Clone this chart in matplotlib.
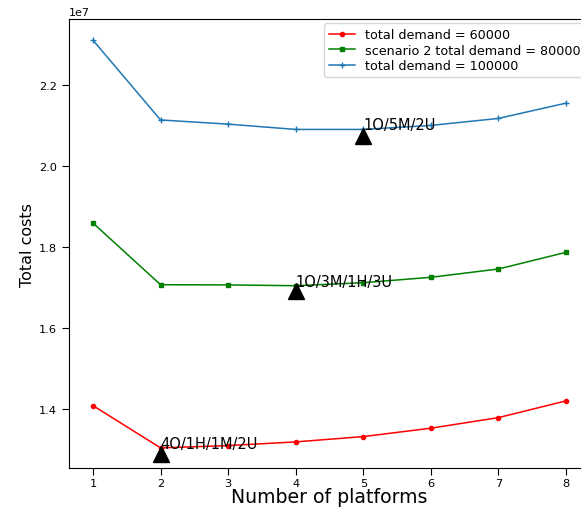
import matplotlib
matplotlib.use('Agg')
import matplotlib.pyplot as plt
import numpy as np

# number of platforms
platforms = [1, 2, 3, 4, 5, 6, 7, 8]

# total costs (x 1e7)
cost_60000 = [1.4081, 1.3037, 1.3094, 1.3185, 1.3316, 1.3523, 1.3785, 1.4198]
cost_80000 = [1.8593, 1.7069, 1.7064, 1.7044, 1.7119, 1.7252, 1.7457, 1.7869]
cost_100000 = [2.3110, 2.1140, 2.1037, 2.0906, 2.0906, 2.1005, 2.1178, 2.1556]

# optimum markers and their labels
opt_x = [2, 4, 5]
opt_marker_y = [1.289, 1.692, 2.074]
opt_text_y = [1.3037, 1.7044, 2.0906]
opt_labels = ['4O/1H/1M/2U', '1O/3M/1H/3U', '1O/5M/2U']

scale = 1e7

fig = plt.figure(figsize=(5.81, 5.10), dpi=100)
ax = fig.add_axes([0.1188, 0.0804, 0.896, 0.880])

ax.plot(platforms, np.array(cost_60000) * scale, 'r-o', ms=3, lw=1.1,
        label='total demand = 60000')
ax.plot(platforms, np.array(cost_80000) * scale, 'g-s', ms=3.5, lw=1.1,
        label='scenario 2 total demand = 80000')
ax.plot(platforms, np.array(cost_100000) * scale, '-+', color='tab:blue',
        ms=4, lw=1.1, label='total demand = 100000')

for x, ym, yt, lab in zip(opt_x, opt_marker_y, opt_text_y, opt_labels):
    ax.plot(x, ym * scale, '^', color='black', ms=11)
    ax.text(x, yt * scale, lab, fontsize=10.5, ha='left', va='baseline')

ax.set_xlim(0.645, 8.35)
ax.set_ylim(1.254 * scale, 2.363 * scale)
ax.set_xticks(platforms)
ax.tick_params(labelsize=8.2, length=5)
ax.tick_params(axis='x', pad=2.5)
ax.yaxis.get_offset_text().set_fontsize(8)

ax.set_xlabel('Number of platforms', fontsize=13.6, labelpad=-1)
ax.set_ylabel('Total costs', fontsize=11.5, labelpad=3)

ax.legend(loc='upper right', fontsize=9.2, labelspacing=0.2,
          borderaxespad=0.3)

fig.savefig('out.png', dpi=100)
